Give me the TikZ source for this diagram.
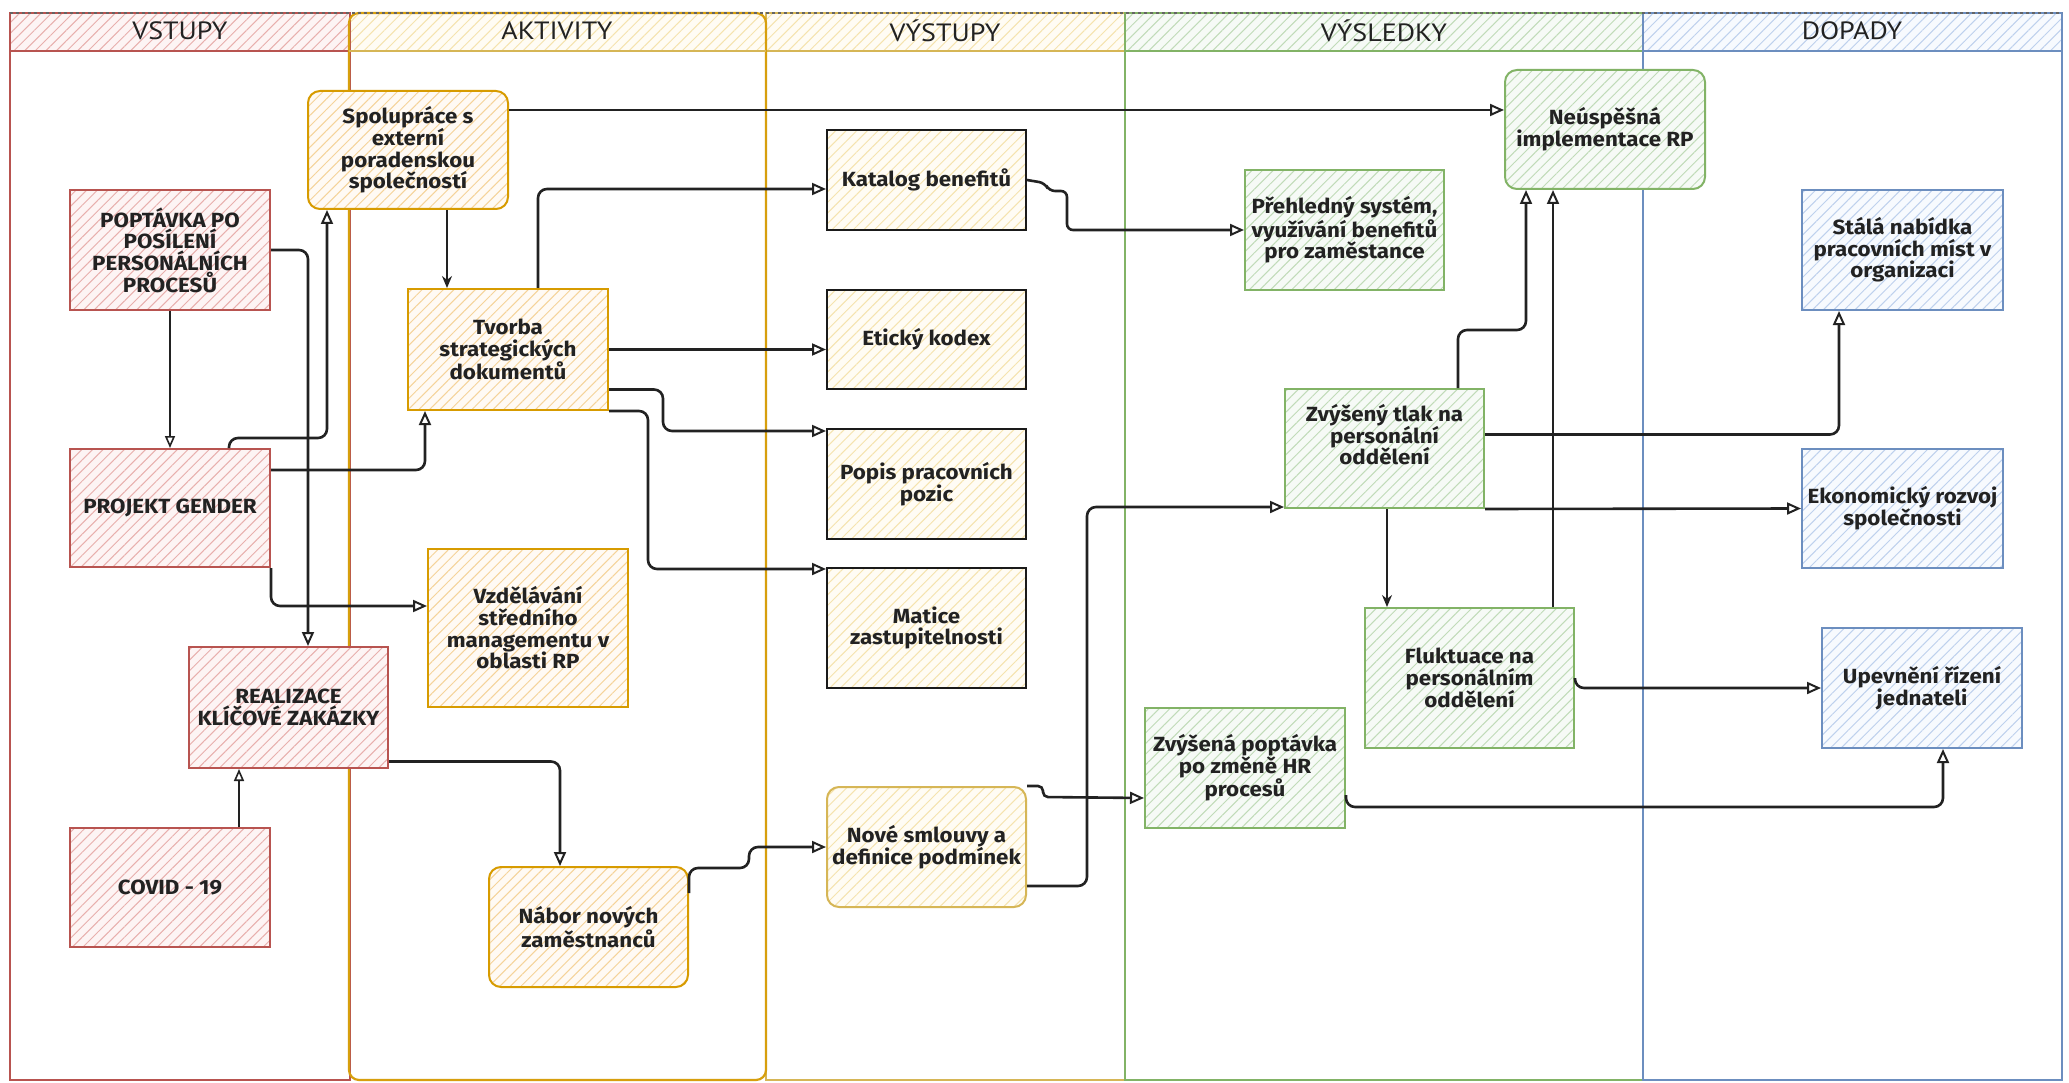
\documentclass[tikz,border=0pt]{standalone}
\usepackage{fontspec}
\setmainfont{Fira Sans}[FakeStretch=1.09]
\newfontfamily\lanefont{PT Sans}[FakeStretch=1.12]
\usetikzlibrary{arrows.meta,patterns.meta}

% draw.io style palette: stroke (S) and fill (F)
\definecolor{redS}{HTML}{B85450}\definecolor{redF}{HTML}{F8CECC}
\definecolor{yelS}{HTML}{D6B656}\definecolor{yelF}{HTML}{FFF2CC}
\definecolor{oraS}{HTML}{D79B00}\definecolor{oraF}{HTML}{FFE6CC}
\definecolor{grnS}{HTML}{82B366}\definecolor{grnF}{HTML}{D5E8D4}
\definecolor{bluS}{HTML}{6C8EBF}\definecolor{bluF}{HTML}{DAE8FC}
\definecolor{blkS}{HTML}{1A1A1A}
\definecolor{ink}{HTML}{222222}

\tikzset{
  hatch/.style={preaction={fill=#1F!22!white},
    pattern={Lines[angle=45,distance=7.5pt,line width=1pt]},
    pattern color=#1F!75!#1S},
  card/.style={line width=2pt, align=center, text=ink, inner sep=3pt,
    font=\bfseries\fontsize{20.5}{21.7}\selectfont},
  redcard/.style={card, draw=redS, hatch=red},
  oracard/.style={card, draw=oraS, hatch=ora},
  yelcard/.style={card, draw=blkS, hatch=yel},
  grncard/.style={card, draw=grnS, hatch=grn},
  blucard/.style={card, draw=bluS, hatch=blu},
  soft/.style={rounded corners=12pt},
  lanehead/.style={font=\lanefont\fontsize{25}{28}\selectfont, text=ink},
  conn/.style={draw=ink, line width=2.6pt, rounded corners=9pt,
    -{Triangle[open,length=14pt,width=12pt,line width=2pt]}},
  thinconn/.style={draw=ink, line width=1.6pt, rounded corners=9pt,
    -{Triangle[open,length=12pt,width=10pt,line width=1.6pt]}},
  thin/.style={draw=ink, line width=1.6pt, rounded corners=9pt,
    -{Stealth[length=12pt,width=10pt]}},
}

\begin{document}
\begin{tikzpicture}[x=1pt,y=-1pt]
\useasboundingbox (0,0) rectangle (2069,1083);
\fill[white] (0,0) rectangle (2069,1083);

% ---- swimlanes ----
\path[hatch=red] (10,13) rectangle (350,51);
\path[hatch=yel] (766,13) rectangle (1125,51);
\path[hatch=grn] (1125,13) rectangle (1643,51);
\path[hatch=blu] (1643,13) rectangle (2062,51);
\path[hatch=yel, rounded corners=10pt] (349,51) -- (349,13) -- (766,13) -- (766,51) -- cycle;

\draw[redS, line width=2pt] (10,13) rectangle (350,1080) (10,51) -- (350,51);
\draw[yelS, line width=2pt] (766,13) rectangle (1125,1080) (766,51) -- (1125,51);
\draw[grnS, line width=2pt] (1125,13) rectangle (1643,1080) (1125,51) -- (1643,51);
\draw[bluS, line width=2.6pt] (1643,13) rectangle (2062,1080) (1643,51) -- (2062,51);
\draw[oraS!85!yelS, line width=2.2pt, rounded corners=10pt] (349,13) rectangle (766,1080);
\draw[yelS, line width=2pt] (349,51) -- (766,51);
\draw[ink!70, line width=1.6pt, dashed] (10,13) -- (2062,13);

\node[lanehead] (hVstupy) at (180,31) {VSTUPY};
\node[lanehead] (hAktivity) at (557,31) {AKTIVITY};
\node[lanehead] (hVystupy) at (945,31) {VÝSTUPY};
\node[lanehead] (hVysledky) at (1384,31) {VÝSLEDKY};
\node[lanehead] (hDopady) at (1852,31) {DOPADY};

% ---- inputs ----
\node[redcard, minimum width=200pt, minimum height=120pt] (poptavka) at (170,250)
  {POPTÁVKA PO\\POSÍLENÍ\\PERSONÁLNÍCH\\PROCESŮ};
\node[redcard, minimum width=200pt, minimum height=118pt] (gender) at (170,508)
  {PROJEKT GENDER};
\node[redcard, minimum width=199pt, minimum height=121pt] (realizace) at (288.5,707.5)
  {REALIZACE\\KLÍČOVÉ ZAKÁZKY};
\node[redcard, minimum width=200pt, minimum height=119pt] (covid) at (170,887.5)
  {COVID - 19};

% ---- activities ----
\node[oracard, soft, minimum width=200pt, minimum height=118pt] (spoluprace) at (408,150)
  {Spolupráce s\\externí\\poradenskou\\společností};
\node[oracard, minimum width=200pt, minimum height=121pt] (tvorba) at (508,349.5)
  {Tvorba\\strategických\\dokumentů};
\node[oracard, minimum width=200pt, minimum height=158pt] (vzdelavani) at (528,628)
  {Vzdělávání\\středního\\managementu v\\oblasti RP};
\node[oracard, soft, minimum width=199pt, minimum height=120pt] (nabor) at (588.5,927)
  {Nábor nových\\zaměstnanců};

% ---- outputs ----
\node[yelcard, minimum width=199pt, minimum height=100pt] (katalog) at (926.5,180)
  {Katalog benefitů};
\node[yelcard, minimum width=199pt, minimum height=99pt] (eticky) at (926.5,339.5)
  {Etický kodex};
\node[yelcard, minimum width=199pt, minimum height=110pt] (popis) at (926.5,484)
  {Popis pracovních\\pozic};
\node[yelcard, minimum width=199pt, minimum height=120pt] (matice) at (926.5,628)
  {Matice\\zastupitelnosti};
\node[yelcard, draw=yelS, soft, minimum width=199pt, minimum height=120pt] (nove) at (926.5,847)
  {Nové smlouvy a\\definice podmínek};

% ---- outcomes ----
\node[grncard, soft, minimum width=200pt, minimum height=119pt] (neuspesna) at (1605,129.5)
  {Neúspěšná\\implementace RP};
\node[grncard, minimum width=199pt, minimum height=120pt] (prehledny) at (1344.5,230)
  {Přehledný systém,\\využívání benefitů\\pro zaměstance};
\node[grncard, minimum width=199pt, minimum height=119pt] (tlak) at (1384.5,448.5)
  {Zvýšený tlak na\\personální\\oddělení\\[6pt]};
\node[grncard, minimum width=209pt, minimum height=140pt] (fluktuace) at (1469.5,678)
  {Fluktuace na\\personálním\\oddělení};
\node[grncard, minimum width=200pt, minimum height=120pt] (poptavka2) at (1245,768)
  {Zvýšená poptávka\\po změně HR\\procesů};

% ---- impacts ----
\node[blucard, minimum width=201pt, minimum height=120pt] (stala) at (1902.5,250)
  {Stálá nabídka\\pracovních míst v\\organizaci};
\node[blucard, minimum width=201pt, minimum height=119pt] (ekonomicky) at (1902.5,508.5)
  {Ekonomický rozvoj\\společnosti};
\node[blucard, minimum width=200pt, minimum height=120pt] (upevneni) at (1922,688)
  {Upevnění řízení\\jednateli};

% ---- connectors ----
\draw[thinconn] (poptavka.south) -- (gender.north);
\draw[conn] (poptavka.east) -| ([xshift=19.5pt]realizace.north);
\draw[conn] ([xshift=59pt]gender.north) -- ++(0,-10) -| ([xshift=-81pt]spoluprace.south);
\draw[conn] ([yshift=38pt]gender.east) -| ([xshift=-83pt]tvorba.south);
\draw[conn] (gender.south east) |- ([yshift=22pt]vzdelavani.west);
\draw[thin] ([xshift=39pt]spoluprace.south) -- ([xshift=-61pt]tvorba.north);
\draw[conn] ([yshift=40pt]spoluprace.east) -- ([yshift=19.5pt]neuspesna.west);
\draw[conn] ([xshift=30pt]tvorba.north) |- ([yshift=-9pt]katalog.west);
\draw[conn] (tvorba.east) -- ([yshift=-10pt]eticky.west);
\draw[conn] ([yshift=-40pt]tvorba.east) -- ++(54,0) |- ([yshift=-3pt]popis.north west);
\draw[conn] (tvorba.south east) -- ++(39,0) |- ([yshift=-2pt]matice.north west);
\draw[conn] ([yshift=-54pt]realizace.east) -| ([xshift=-28.5pt]nabor.north);
\draw[thinconn] ([xshift=69pt]covid.north) -- ([xshift=-49.5pt]realizace.south);
\draw[conn] ([yshift=34pt]nabor.east) -- ++(0,-25) -- ++(60,0) |- (nove.west);
\draw[conn, rounded corners=5pt] (nove.north east) -- ++(16,0) -- ++(0,11) -- ([yshift=-30pt]poptavka2.west);
\draw[conn] ([yshift=-39pt]nove.east) -- ++(60,0) |- ([yshift=2pt]tlak.south west);
\draw[conn, rounded corners=6pt] (katalog.east) -- ++(18,3) -- ++(4,8) -- ++(18,0) |- (prehledny.west);
\draw[conn] ([xshift=73.5pt]tlak.north) -- ++(0,-58) -| ([xshift=-79pt]neuspesna.south);
\draw[conn] ([xshift=83.5pt]fluktuace.north) -- ([xshift=-52pt]neuspesna.south);
\draw[thin] ([xshift=2.5pt]tlak.south) -- ([xshift=-82.5pt]fluktuace.north);
\draw[conn] ([yshift=14pt]tlak.east) -| ([xshift=-63.5pt]stala.south);
\draw[conn] (tlak.south east) -- (ekonomicky.west);
\draw[conn] (fluktuace.east) |- (upevneni.west);
\draw[conn] ([yshift=-27pt]poptavka2.east) -- ++(0,12) -| ([xshift=21pt]upevneni.south);
\end{tikzpicture}
\end{document}
